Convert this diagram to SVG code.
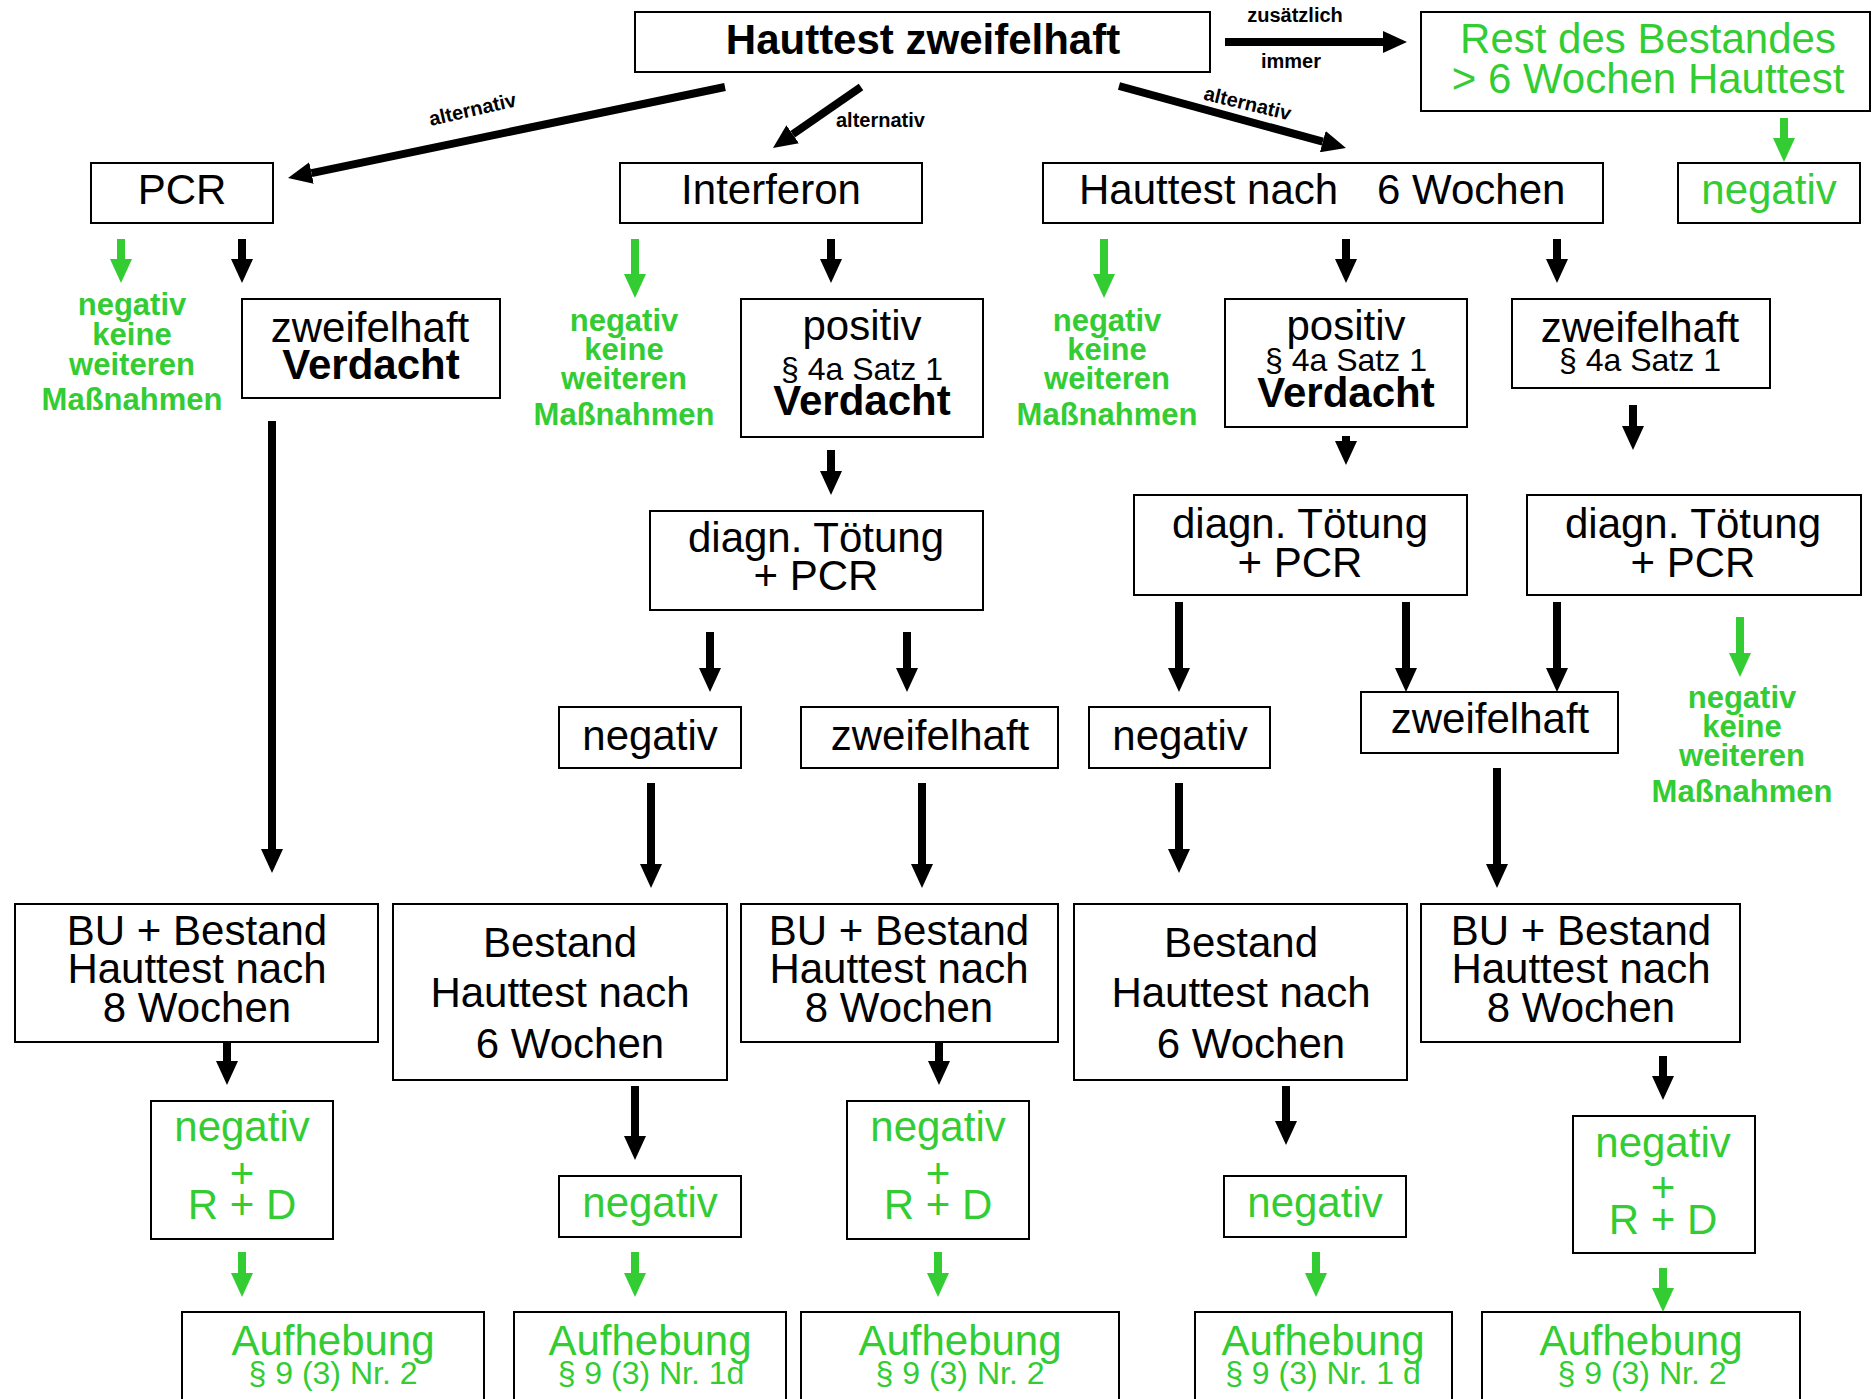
<svg xmlns="http://www.w3.org/2000/svg" width="1872" height="1399" viewBox="0 0 1872 1399">
<style>
.b{fill:#fff;stroke:#000;stroke-width:2}
text{font-family:"Liberation Sans",Arial,Helvetica,sans-serif;text-anchor:middle;fill:#000}
.t{font-size:42px}
.s{font-size:32px}
.bd{font-weight:bold}
.g{fill:#33cc33}
.gs{font-size:31px;font-weight:bold;fill:#33cc33}
.lb{font-size:20px;font-weight:bold}
.k{stroke:#000;stroke-width:8;fill:none}
.gk{stroke:#33cc33;stroke-width:8;fill:none}
</style>
<defs>
<marker id="ah" viewBox="0 -11 24 22" refX="0" refY="0" markerWidth="24" markerHeight="22" markerUnits="userSpaceOnUse" orient="auto"><path d="M0,-11 L24,0 L0,11 z" fill="#000"/></marker>
<marker id="ahg" viewBox="0 -11 24 22" refX="0" refY="0" markerWidth="24" markerHeight="22" markerUnits="userSpaceOnUse" orient="auto"><path d="M0,-11 L24,0 L0,11 z" fill="#33cc33"/></marker>
</defs>
<rect width="1872" height="1399" fill="#fff"/>

<g id="connectors">
<g class="k" marker-end="url(#ah)">
<line x1="1225" y1="42" x2="1383" y2="42"/>
<line x1="725" y1="87" x2="311.5" y2="173.1"/>
<line x1="861" y1="87" x2="792.7" y2="134.3"/>
<line x1="1119" y1="86" x2="1322.8" y2="141.7"/>
<line x1="242" y1="239" x2="242" y2="259"/>
<line x1="831" y1="239" x2="831" y2="259"/>
<line x1="1346" y1="239" x2="1346" y2="259"/>
<line x1="1557" y1="239" x2="1557" y2="259"/>
<line x1="272" y1="421" x2="272" y2="849"/>
<line x1="831" y1="450" x2="831" y2="471"/>
<line x1="710" y1="632" x2="710" y2="668"/>
<line x1="907" y1="632" x2="907" y2="668"/>
<line x1="651" y1="783" x2="651" y2="864"/>
<line x1="922" y1="783" x2="922" y2="864"/>
<line x1="1346" y1="436" x2="1346" y2="441"/>
<line x1="1633" y1="405" x2="1633" y2="426"/>
<line x1="1179" y1="602" x2="1179" y2="668"/>
<line x1="1406" y1="602" x2="1406" y2="668"/>
<line x1="1557" y1="602" x2="1557" y2="668"/>
<line x1="1179" y1="783" x2="1179" y2="849"/>
<line x1="1497" y1="768" x2="1497" y2="864"/>
<line x1="227" y1="1042" x2="227" y2="1061"/>
<line x1="939" y1="1042" x2="939" y2="1061"/>
<line x1="635" y1="1086" x2="635" y2="1136"/>
<line x1="1286" y1="1086" x2="1286" y2="1121"/>
<line x1="1663" y1="1056" x2="1663" y2="1076"/>
</g>
<g class="gk" marker-end="url(#ahg)">
<line x1="121" y1="239" x2="121" y2="259"/>
<line x1="635" y1="239" x2="635" y2="274"/>
<line x1="1104" y1="239" x2="1104" y2="274"/>
<line x1="1784" y1="118" x2="1784" y2="138"/>
<line x1="1740" y1="617" x2="1740" y2="653"/>
<line x1="242" y1="1252" x2="242" y2="1273"/>
<line x1="635" y1="1252" x2="635" y2="1273"/>
<line x1="938" y1="1252" x2="938" y2="1273"/>
<line x1="1316" y1="1252" x2="1316" y2="1273"/>
<line x1="1663" y1="1268" x2="1663" y2="1288"/>
</g>
<text class="lb" x="1295" y="22">zusätzlich</text>
<text class="lb" x="1291" y="68">immer</text>
<text class="lb" transform="translate(474,116) rotate(-13)">alternativ</text>
<text class="lb" x="836" y="127" style="text-anchor:start">alternativ</text>
<text class="lb" transform="translate(1246,110) rotate(13.5)">alternativ</text>
</g>

<g id="n-top"><rect class="b" x="635" y="12" width="575" height="60"/><text class="t bd" x="923" y="54">Hauttest zweifelhaft</text></g>
<g id="n-rest"><rect class="b" x="1421" y="12" width="449" height="99"/><text class="t g" x="1648" y="53">Rest des Bestandes</text><text class="t g" x="1648" y="93">&gt; 6 Wochen Hauttest</text></g>
<g id="n-pcr"><rect class="b" x="91" y="163" width="182" height="60"/><text class="t" x="182" y="204">PCR</text></g>
<g id="n-interferon"><rect class="b" x="620" y="163" width="302" height="60"/><text class="t" x="771" y="204">Interferon</text></g>
<g id="n-haut6"><rect class="b" x="1043" y="163" width="560" height="60"/><text class="t" y="204" style="text-anchor:start"><tspan x="1079">Hauttest nach</tspan><tspan x="1377">6 Wochen</tspan></text></g>
<g id="n-neg-top"><rect class="b" x="1678" y="163" width="182" height="60"/><text class="t g" x="1769" y="204">negativ</text></g>

<g id="n-g1"><text class="gs" x="132" y="315">negativ</text><text class="gs" x="132" y="345">keine</text><text class="gs" x="132" y="375">weiteren</text><text class="gs" x="132" y="410">Maßnahmen</text></g>
<g id="n-zv"><rect class="b" x="242" y="299" width="258" height="99"/><text class="t" x="370" y="342">zweifelhaft</text><text class="t bd" x="371" y="379">Verdacht</text></g>
<g id="n-g2"><text class="gs" x="624" y="331">negativ</text><text class="gs" x="624" y="360">keine</text><text class="gs" x="624" y="389">weiteren</text><text class="gs" x="624" y="425">Maßnahmen</text></g>
<g id="n-pos1"><rect class="b" x="741" y="299" width="242" height="138"/><text class="t" x="862" y="340">positiv</text><text class="s" x="862" y="380">§ 4a Satz 1</text><text class="t bd" x="862" y="415">Verdacht</text></g>
<g id="n-g3"><text class="gs" x="1107" y="331">negativ</text><text class="gs" x="1107" y="360">keine</text><text class="gs" x="1107" y="389">weiteren</text><text class="gs" x="1107" y="425">Maßnahmen</text></g>
<g id="n-pos2"><rect class="b" x="1225" y="299" width="242" height="128"/><text class="t" x="1346" y="340">positiv</text><text class="s" x="1346" y="371">§ 4a Satz 1</text><text class="t bd" x="1346" y="407">Verdacht</text></g>
<g id="n-zw2"><rect class="b" x="1512" y="299" width="258" height="89"/><text class="t" x="1640" y="342">zweifelhaft</text><text class="s" x="1640" y="371">§ 4a Satz 1</text></g>

<g id="n-diag1"><rect class="b" x="650" y="511" width="333" height="99"/><text class="t" x="816" y="552">diagn. Tötung</text><text class="t" x="816" y="590">+ PCR</text></g>
<g id="n-diag2"><rect class="b" x="1134" y="495" width="333" height="100"/><text class="t" x="1300" y="538">diagn. Tötung</text><text class="t" x="1300" y="577">+ PCR</text></g>
<g id="n-diag3"><rect class="b" x="1527" y="495" width="334" height="100"/><text class="t" x="1693" y="538">diagn. Tötung</text><text class="t" x="1693" y="577">+ PCR</text></g>
<g id="n-g4"><text class="gs" x="1742" y="708">negativ</text><text class="gs" x="1742" y="737">keine</text><text class="gs" x="1742" y="766">weiteren</text><text class="gs" x="1742" y="802">Maßnahmen</text></g>

<g id="n-neg1"><rect class="b" x="559" y="707" width="182" height="61"/><text class="t" x="650" y="750">negativ</text></g>
<g id="n-zw3"><rect class="b" x="801" y="707" width="257" height="61"/><text class="t" x="930" y="750">zweifelhaft</text></g>
<g id="n-neg2"><rect class="b" x="1089" y="707" width="181" height="61"/><text class="t" x="1180" y="750">negativ</text></g>
<g id="n-zw4"><rect class="b" x="1361" y="692" width="257" height="61"/><text class="t" x="1490" y="733">zweifelhaft</text></g>

<g id="n-bu1"><rect class="b" x="15" y="904" width="363" height="138"/><text class="t" x="197" y="945">BU + Bestand</text><text class="t" x="197" y="983">Hauttest nach</text><text class="t" x="197" y="1022">8 Wochen</text></g>
<g id="n-best1"><rect class="b" x="393" y="904" width="334" height="176"/><text class="t" x="560" y="957">Bestand</text><text class="t" x="560" y="1007">Hauttest nach</text><text class="t" x="570" y="1058">6 Wochen</text></g>
<g id="n-bu2"><rect class="b" x="741" y="904" width="317" height="138"/><text class="t" x="899" y="945">BU + Bestand</text><text class="t" x="899" y="983">Hauttest nach</text><text class="t" x="899" y="1022">8 Wochen</text></g>
<g id="n-best2"><rect class="b" x="1074" y="904" width="333" height="176"/><text class="t" x="1241" y="957">Bestand</text><text class="t" x="1241" y="1007">Hauttest nach</text><text class="t" x="1251" y="1058">6 Wochen</text></g>
<g id="n-bu3"><rect class="b" x="1421" y="904" width="319" height="138"/><text class="t" x="1581" y="945">BU + Bestand</text><text class="t" x="1581" y="983">Hauttest nach</text><text class="t" x="1581" y="1022">8 Wochen</text></g>

<g id="n-rd1"><rect class="b" x="151" y="1101" width="182" height="138"/><text class="t g" x="242" y="1141">negativ</text><text class="t g" x="242" y="1188">+</text><text class="t g" x="242" y="1219">R + D</text></g>
<g id="n-gneg1"><rect class="b" x="559" y="1176" width="182" height="61"/><text class="t g" x="650" y="1217">negativ</text></g>
<g id="n-rd2"><rect class="b" x="847" y="1101" width="182" height="138"/><text class="t g" x="938" y="1141">negativ</text><text class="t g" x="938" y="1188">+</text><text class="t g" x="938" y="1219">R + D</text></g>
<g id="n-gneg2"><rect class="b" x="1224" y="1176" width="182" height="61"/><text class="t g" x="1315" y="1217">negativ</text></g>
<g id="n-rd3"><rect class="b" x="1573" y="1116" width="182" height="137"/><text class="t g" x="1663" y="1157">negativ</text><text class="t g" x="1663" y="1202">+</text><text class="t g" x="1663" y="1234">R + D</text></g>

<g id="n-auf1"><rect class="b" x="182" y="1312" width="302" height="110"/><text class="t g" x="333" y="1355">Aufhebung</text><text class="s g" x="333" y="1384">§ 9 (3) Nr. 2</text></g>
<g id="n-auf2"><rect class="b" x="514" y="1312" width="272" height="110"/><text class="t g" x="650" y="1355">Aufhebung</text><text class="s g" x="651" y="1384">§ 9 (3) Nr. 1d</text></g>
<g id="n-auf3"><rect class="b" x="801" y="1312" width="318" height="110"/><text class="t g" x="960" y="1355">Aufhebung</text><text class="s g" x="960" y="1384">§ 9 (3) Nr. 2</text></g>
<g id="n-auf4"><rect class="b" x="1195" y="1312" width="257" height="110"/><text class="t g" x="1323" y="1355">Aufhebung</text><text class="s g" x="1323" y="1384">§ 9 (3) Nr. 1 d</text></g>
<g id="n-auf5"><rect class="b" x="1482" y="1312" width="318" height="110"/><text class="t g" x="1641" y="1355">Aufhebung</text><text class="s g" x="1642" y="1384">§ 9 (3) Nr. 2</text></g>
</svg>
